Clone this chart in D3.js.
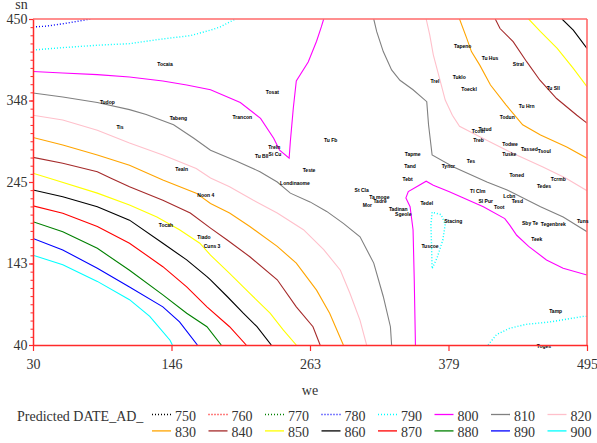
<!DOCTYPE html>
<html>
<head>
<meta charset="utf-8">
<script src="https://cdn.jsdelivr.net/npm/d3@7"></script>
<style>
  body { margin: 0; background: #fff; }
</style>
</head>
<body>
<svg id="chart" width="597" height="443"></svg>
<script>
var xTicks = [30, 146.25, 262.5, 378.75, 495];
var yTicks = [40, 142.5, 245, 347.5, 450];

var levels = [750, 760, 770, 780, 790, 800, 810, 820, 830, 840, 850, 860, 870, 880, 890, 900];
var levelColors = ['#000000', '#ff0000', '#008000', '#0000ff', '#00ffff', '#ff00ff', '#808080', '#ffc0cb',
  '#ffa500', '#a52a2a', '#ffff00', '#000000', '#ff0000', '#008000', '#0000ff', '#00ffff'];
var dottedLevels = [750, 760, 770, 780, 790];

// contour lines, in [we, sn]
var c780 = [[30,440],[41,441],[55,444],[67,447],[78,450]];
var c790a = [[30,411],[55,414],[84,417],[111,419],[139,425],[162,429],[179,436],[187,440],[200,450]];
var c790b = [[412,40],[419,53],[430,61],[444,66],[464,69],[492,76],[495,76]];
var c790c = [[365,207],[364,191],[364.5,166],[365,136],[369,149],[374,172],[376,192],[372.5,204],[365,207]];
var c800a = [[30,384],[55,382],[84,380],[111,377],[139,372],[159,367],[179,361],[204,345],[221,325],[232,300],
  [237,285],[245,275],[246,296],[248.5,338],[251,372],[261,396],[268,422],[272,440],[274,450]];
var c800b = [[351,40],[350,122],[349,185],[346.5,214],[343,225],[345,233],[352,239],[360,246],[366,241],[379,233],
  [408,214],[426,199],[430,191],[436,178],[446,164],[461,147],[475,136.5],[495,128]];
var c810a = [[30,357],[55,352],[84,345],[111,336],[125,330],[148,317],[165,300],[179,285],[201,271],[220.5,258],
  [235,245],[246,231],[262.5,220],[276.5,208],[290.5,193],[304.5,176],[316,143],[324,101],[330,63],[331,40]];
var c810b = [[316,450],[318.5,434],[324,409],[331,386],[338,373],[349,361],[360.5,346],[362,317],[365,279],[383,264],
  [411,245],[428,235],[456,214],[475,201],[495,182.5]];
var c820a = [[30,329],[55,323],[84,310],[111,294],[139,279],[167,262],[179,250],[195,239],[215,222],[235,206],
  [257,185],[274,160],[288,134],[296,105],[304.5,71],[310,40]];
var c820b = [[360,450],[363,430],[366,405],[372,371],[376,348],[382,329],[388,315],[405,302],[430,283],[458,264],
  [477,250],[495,234]];
var c830a = [[30,301],[55,291.5],[84,279],[111,266],[139,247.5],[167,231],[179,218],[195,206],[212,189],[235,164],
  [251,143],[268,109],[279,80],[290.5,40]];
var c830b = [[388,450],[394,426],[398,409],[405,392],[414,367],[427,342],[441,317],[456,304],[478,289],[495,275]];
var c840a = [[30,276],[55,268.5],[84,258],[95,250],[111,239],[139,222],[162,206],[179,187],[193,172],[212,151],
  [235,122],[251,88],[265,63],[271,40]];
var c840b = [[418,450],[422,438],[433,421.5],[444.5,396],[455.5,373],[469.5,350],[486.5,329],[495,319]];
var c850a = [[30,256],[48.5,247.5],[84,231],[111,216],[134,201],[153,185],[170,168],[179,153],[195,130],[212,105],
  [229,80],[240,59],[251,40]];
var c850b = [[446,450],[456,434],[470,413],[483.5,388],[495,365]];
var c860a = [[30,235],[55,226.5],[84,214],[111,197],[139,168],[159,147],[176,126],[179,122],[193,101],[206.5,80],
  [218,63],[230,40]];
var c860b = [[474,450],[483.5,436],[495,413]];
var c870 = [[30,215],[55,205.6],[84,189],[111,168],[139,138.5],[159,113],[176,88],[195,63],[209,40]];
var c880 = [[30,195],[55,182.5],[84,161.6],[111,134],[139,103],[159,80],[176,63],[188,40]];
var c890 = [[30,174],[55,159.5],[84,136.5],[111,113],[139,88],[153,69],[168,40]];
var c900 = [[30,153],[55,141],[84,120],[111,97],[128,76],[145,46],[147,40]];

var siteNames = ['Tocaia', 'Tudop', 'Tabeng', 'Tis', 'Tealn', 'Noon 4', 'Tocah', 'Tiado', 'Cuns 3', 'Tosat',
  'Trancon', 'Treln', 'Si Cu', 'Tu Bll', 'Tu Fb', 'Teste', 'Londinaome', 'Tapme', 'Tand', 'Tebt',
  'St Cla', 'Ta moge', 'Tadre', 'Mor', 'Tadinan', 'Sgeole', 'Tedel', 'Stacing', 'Tuscoe', 'Tapeno',
  'Tu Hus', 'Stral', 'Trel', 'Tuklo', 'Toeckl', 'Tu Sll', 'Tu Hrn', 'Todun', 'Tstud', 'Tcoln',
  'Treb', 'Todwe', 'Tassed', 'Tsoul', 'Tuske', 'Tes', 'Tyncr', 'Toned', 'Tcrmb', 'Tedes',
  'Tl Clm', 'Sl Pur', 'Toot', 'Lcbn', 'Tesd', 'Sby Te', 'Tegenbrek', 'Tuns', 'Teek', 'Tamp', 'Toges'];
var siteWe = [140.8, 92.4, 152, 103, 154.8, 175, 141.6, 173.5, 180.3, 230.9,
  205.7, 232.5, 233.1, 222, 279.9, 261.7, 249.9, 348.7, 346.5, 344.5,
  305.9, 320.7, 321.3, 310.6, 336.6, 340.8, 360.5, 382.8, 363.2, 390.7,
  413.6, 437.4, 367.4, 387.8, 396, 466.7, 444.4, 428.1, 409.4, 403.8,
  404, 430.4, 446.6, 459.2, 429.8, 397.6, 378.6, 436, 470.9, 458.9,
  403.3, 410, 421.4, 429.8, 436.5, 447.2, 466.7, 491.4, 452.8, 468.7, 458.9];
var siteSn = [393.4, 345.2, 325.1, 313.3, 261.4, 228.7, 190, 175.4, 163.6, 357.3,
  325.9, 288.1, 279.8, 276.8, 297.5, 259.2, 243.4, 280.2, 264.2, 248.8,
  234.1, 225.3, 221.1, 216.1, 211, 204.4, 218.2, 196, 163.6, 415.2,
  400.6, 393.4, 371.2, 376.2, 362, 362.8, 339.7, 326.4, 311.3, 308.3,
  297.5, 292.8, 286.1, 283.1, 279.8, 270.5, 264.3, 253.8, 248.8, 240,
  232.8, 221.1, 213.2, 226.5, 220.2, 193.1, 192.2, 195.1, 172.9, 82.8, 38];

var contours = [
  {level: 780, pts: c780}, {level: 790, pts: c790a}, {level: 790, pts: c790b}, {level: 790, pts: c790c},
  {level: 800, pts: c800a}, {level: 800, pts: c800b}, {level: 810, pts: c810a}, {level: 810, pts: c810b},
  {level: 820, pts: c820a}, {level: 820, pts: c820b}, {level: 830, pts: c830a}, {level: 830, pts: c830b},
  {level: 840, pts: c840a}, {level: 840, pts: c840b}, {level: 850, pts: c850a}, {level: 850, pts: c850b},
  {level: 860, pts: c860a}, {level: 860, pts: c860b}, {level: 870, pts: c870}, {level: 880, pts: c880},
  {level: 890, pts: c890}, {level: 900, pts: c900}
];

var serif = '"Liberation Serif", "DejaVu Serif", serif';
var textColor = '#333333';

function colorFor(level) {
  return levelColors[levels.indexOf(level)];
}

function isDotted(level) {
  return dottedLevels.indexOf(level) !== -1;
}

var svg = d3.select('#chart');

var x = d3.scaleLinear().domain([30, 495]).range([33, 587]);
var y = d3.scaleLinear().domain([40, 450]).range([345, 19]);

svg.append('clipPath').attr('id', 'plotClip')
  .append('rect')
  .attr('x', x(30)).attr('y', y(450))
  .attr('width', x(495) - x(30)).attr('height', y(40) - y(450));

var line = d3.line()
  .x(function(d) { return x(d[0]); })
  .y(function(d) { return y(d[1]); });

var plot = svg.append('g').attr('clip-path', 'url(#plotClip)');

plot.selectAll('path.contour')
  .data(contours)
  .enter()
  .append('path')
  .attr('class', 'contour')
  .attr('d', function(c) { return line(c.pts); })
  .attr('fill', 'none')
  .attr('stroke', function(c) { return colorFor(c.level); })
  .attr('stroke-width', function(c) { return isDotted(c.level) ? 1.4 : 1.1; })
  .attr('stroke-dasharray', function(c) { return isDotted(c.level) ? '1,2' : null; });

// top and right edges of the frame
svg.append('line')
  .attr('x1', x(30)).attr('x2', x(495)).attr('y1', y(450)).attr('y2', y(450))
  .attr('stroke', '#ff6a6a').attr('stroke-width', 1.6);
svg.append('line')
  .attr('x1', x(495)).attr('x2', x(495)).attr('y1', y(450)).attr('y2', y(40))
  .attr('stroke', '#ff6a6a').attr('stroke-width', 1.6);

var sites = siteNames.map(function(name, i) {
  return {name: name, we: siteWe[i], sn: siteSn[i]};
});

svg.append('g').selectAll('text')
  .data(sites)
  .enter()
  .append('text')
  .attr('x', function(d) { return x(d.we); })
  .attr('y', function(d) { return y(d.sn); })
  .attr('dy', '0.35em')
  .attr('text-anchor', 'middle')
  .attr('font-family', '"Liberation Sans", Arial, sans-serif')
  .attr('font-weight', 'bold')
  .attr('font-size', 5)
  .attr('fill', '#000')
  .text(function(d) { return d.name; });

function styleAxis(g) {
  g.attr('font-family', serif).attr('font-size', 14);
  g.select('.domain').attr('stroke', '#ff2a2a').attr('stroke-width', 1.5);
  g.selectAll('.tick line').attr('stroke', '#ff2a2a').attr('stroke-width', 1.2);
  g.selectAll('.tick text').attr('fill', textColor);
}

var minorY = d3.range(0, 41).map(function(i) { return 40 + i * 10.25; });

svg.append('g')
  .attr('transform', 'translate(' + x(30) + ',0)')
  .call(d3.axisLeft(y).tickValues(minorY).tickSize(2.5).tickSizeOuter(0).tickFormat(''))
  .call(function(g) {
    g.select('.domain').remove();
    g.selectAll('.tick line').attr('stroke', '#ff2a2a').attr('stroke-width', 1);
  });

svg.append('g')
  .attr('transform', 'translate(' + x(30) + ',0)')
  .call(d3.axisLeft(y).tickValues(yTicks).tickSize(4).tickSizeOuter(0).tickPadding(1.5)
    .tickFormat(function(d) { return Math.round(d); }))
  .call(styleAxis);

svg.append('g')
  .attr('transform', 'translate(0,' + y(40) + ')')
  .call(d3.axisBottom(x).tickValues(xTicks).tickSize(6).tickSizeOuter(0).tickPadding(8.5)
    .tickFormat(function(d) { return Math.round(d); }))
  .call(styleAxis);

svg.append('text')
  .attr('x', (x(30) + x(495)) / 2)
  .attr('y', 395)
  .attr('text-anchor', 'middle')
  .attr('font-family', serif).attr('font-size', 14).attr('fill', textColor)
  .text('we');

svg.append('text')
  .attr('x', 21.5)
  .attr('y', 9)
  .attr('text-anchor', 'middle')
  .attr('font-family', serif).attr('font-size', 14).attr('fill', textColor)
  .text('sn');

// legend: two rows of eight levels
var legend = svg.append('g');

legend.append('text')
  .attr('x', 17).attr('y', 420.5)
  .attr('font-family', serif).attr('font-size', 14).attr('fill', textColor)
  .text('Predicted DATE_AD_');

var items = legend.selectAll('g.item')
  .data(levels)
  .enter()
  .append('g')
  .attr('class', 'item')
  .attr('transform', function(d, i) {
    return 'translate(' + (152 + 56.5 * (i % 8)) + ',' + (414.5 + 16.4 * Math.floor(i / 8)) + ')';
  });

items.append('line')
  .attr('x1', 0).attr('x2', 19).attr('y1', 0).attr('y2', 0)
  .attr('stroke', colorFor)
  .attr('stroke-width', function(d) { return isDotted(d) ? 1.5 : 1.3; })
  .attr('stroke-dasharray', function(d) { return isDotted(d) ? '1,2' : null; });

items.append('text')
  .attr('x', 23).attr('y', 6)
  .attr('font-family', serif).attr('font-size', 14).attr('fill', textColor)
  .text(function(d) { return d; });
</script>
</body>
</html>
